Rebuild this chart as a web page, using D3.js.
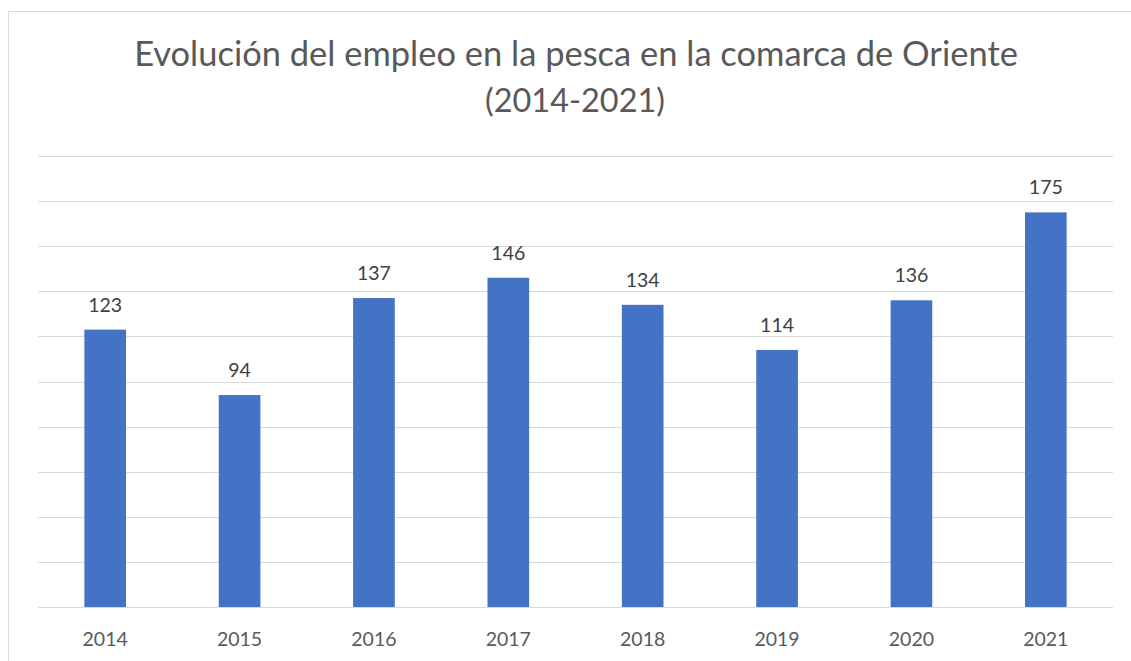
<!DOCTYPE html>
<html>
<head>
<meta charset="utf-8">
<script src="https://cdn.jsdelivr.net/npm/d3@7"></script>
<style>
  html, body { margin: 0; padding: 0; background: #fff; }
  svg { display: block; }
  text { font-family: Lato, "Open Sans", sans-serif; }
</style>
</head>
<body>
<div id="chart"></div>
<script>
var years = ["2014", "2015", "2016", "2017", "2018", "2019", "2020", "2021"];
var empleo = [123, 94, 137, 146, 134, 114, 136, 175];
var grid_ticks = [0, 20, 40, 60, 80, 100, 120, 140, 160, 180, 200];
var title_lines = ["Evolución del empleo en la pesca en la comarca de Oriente", "(2014-2021)"];

var width = 1131, height = 661;
var margin = {top: 156, right: 18, bottom: 54, left: 38};

var svg = d3.select("#chart").append("svg")
    .attr("width", width)
    .attr("height", height);

// chart frame
svg.append("rect")
    .attr("x", 8.5)
    .attr("y", 11.5)
    .attr("width", width + 10)
    .attr("height", height + 10)
    .attr("fill", "#fff")
    .attr("stroke", "#d9d9d9")
    .attr("stroke-width", 1);

var x = d3.scaleBand()
    .domain(years)
    .range([margin.left, width - margin.right])
    .paddingInner(0.69)
    .paddingOuter(0.345);

var y = d3.scaleLinear()
    .domain([0, 200])
    .range([607, margin.top]);

// gridlines
svg.append("g")
    .attr("class", "grid")
    .selectAll("line")
    .data(grid_ticks)
    .enter()
    .append("line")
    .attr("x1", margin.left)
    .attr("x2", width - margin.right)
    .attr("y1", function(d) { return Math.round(y(d)) + 0.5; })
    .attr("y2", function(d) { return Math.round(y(d)) + 0.5; })
    .attr("stroke", "#d9d9d9")
    .attr("stroke-width", 1.2);

// bars
svg.append("g")
    .selectAll("rect")
    .data(empleo)
    .enter()
    .append("rect")
    .attr("x", function(d, i) { return x(years[i]); })
    .attr("y", function(d) { return y(d); })
    .attr("width", x.bandwidth())
    .attr("height", function(d) { return y(0) - y(d); })
    .attr("fill", "#4472c4");

// data labels
svg.append("g")
    .selectAll("text")
    .data(empleo)
    .enter()
    .append("text")
    .text(function(d) { return d; })
    .attr("x", function(d, i) { return x(years[i]) + x.bandwidth() / 2; })
    .attr("y", function(d) { return y(d) - 18; })
    .attr("text-anchor", "middle")
    .attr("font-size", 19.5)
    .attr("fill", "#404040");

// x axis (labels only, baseline drawn by gridline)
var xAxis = svg.append("g")
    .attr("transform", "translate(0," + y(0) + ")")
    .call(d3.axisBottom(x).tickSize(0).tickPadding(0));
xAxis.select(".domain").remove();
xAxis.selectAll("text")
    .attr("dy", null)
    .attr("y", 39)
    .attr("font-size", 19.5)
    .attr("font-family", "Lato, 'Open Sans', sans-serif")
    .attr("fill", "#595959");

// title
var title = svg.append("g");
var t1 = title.append("text")
    .text(title_lines[0])
    .attr("x", 576)
    .attr("y", 66)
    .attr("text-anchor", "middle")
    .attr("fill", "#595959")
    .attr("font-size", 32);
var fs = 32 * 884 / t1.node().getComputedTextLength();
t1.attr("font-size", fs);

var t2 = title.append("text")
    .text(title_lines[1])
    .attr("x", 575)
    .attr("y", 112)
    .attr("text-anchor", "middle")
    .attr("fill", "#595959")
    .attr("font-size", fs);
var fs2 = fs * 180 / t2.node().getComputedTextLength();
t2.attr("font-size", Math.min(fs, fs2));
</script>
</body>
</html>
